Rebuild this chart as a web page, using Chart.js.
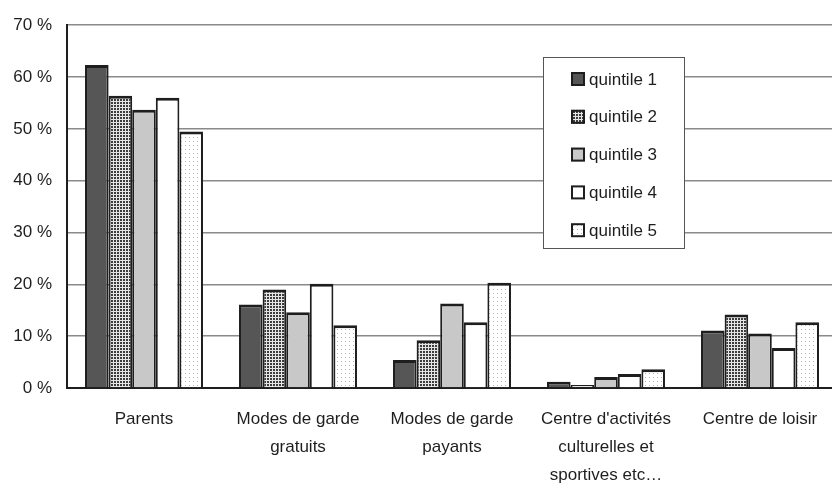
<!DOCTYPE html>
<html>
<head>
<meta charset="utf-8">
<script src="https://cdn.jsdelivr.net/npm/chart.js@4.4.1/dist/chart.umd.min.js"></script>
<style>
  html, body { margin: 0; padding: 0; background: #fff; overflow: hidden; }
  #wrap { width: 840px; height: 494px; }
</style>
</head>
<body>
<div id="wrap"><canvas id="myChart" width="840" height="494"></canvas></div>
<script>
'use strict';

// ====================== DATA ======================//
let categories = [
  ['Parents'],
  ['Modes de garde', 'gratuits'],
  ['Modes de garde', 'payants'],
  ["Centre d'activités", 'culturelles et', 'sportives etc…'],
  ['Centre de loisir']
];
let seriesNames = ['quintile 1', 'quintile 2', 'quintile 3', 'quintile 4', 'quintile 5'];
let quintile1 = [62.3, 16.1, 5.4, 1.2, 11.1];
let quintile2 = [56.4, 19.0, 9.2, 0.6, 14.2];
let quintile3 = [53.7, 14.6, 16.3, 2.1, 10.5];
let quintile4 = [56.0, 20.1, 12.7, 2.7, 7.7];
let quintile5 = [49.5, 12.1, 20.3, 3.6, 12.7];
let yTicks = [0, 10, 20, 30, 40, 50, 60, 70];

// ====================== FONT ======================//
let fontFamily = '"Liberation Sans", Arial, sans-serif';
let fontSize = 17;

// ====================== FILLS ======================//
function makePattern(size, draw) {
  let c = document.createElement('canvas');
  c.width = size;
  c.height = size;
  let g = c.getContext('2d');
  draw(g);
  return document.getElementById('myChart').getContext('2d').createPattern(c, 'repeat');
}

// small grid for quintile 2
let gridFill = makePattern(3, function (g) {
  g.fillStyle = '#e6e6e6';
  g.fillRect(0, 0, 3, 3);
  g.fillStyle = '#3c3c3c';
  g.fillRect(0, 0, 2, 2);
});
// sparse dots for quintile 5
let dotFill = makePattern(4, function (g) {
  g.fillStyle = '#ffffff';
  g.fillRect(0, 0, 4, 4);
  g.fillStyle = '#b4b4b4';
  g.fillRect(1, 1, 1, 1);
});

let fills = ['#565656', gridFill, '#c8c8c8', '#ffffff', dotFill];
let seriesValues = [quintile1, quintile2, quintile3, quintile4, quintile5];

// ====================== LEGEND PLUGIN ======================//
let boxLegend = {
  id: 'boxLegend',
  afterDraw(chart) {
    let ctx = chart.ctx;
    ctx.save();
    ctx.fillStyle = '#ffffff';
    ctx.fillRect(543, 57, 141, 191);
    ctx.strokeStyle = '#555555';
    ctx.lineWidth = 1;
    ctx.strokeRect(543.5, 57.5, 141, 191);
    ctx.font = fontSize + 'px ' + fontFamily;
    ctx.textBaseline = 'middle';
    for (let i = 0; i < seriesNames.length; i++) {
      let y = 79 + i * 37.8;
      ctx.fillStyle = fills[i];
      ctx.fillRect(571, y - 7, 14, 14);
      ctx.strokeStyle = '#1e1e1e';
      ctx.lineWidth = 2;
      ctx.strokeRect(572, y - 6, 12, 12);
      ctx.fillStyle = '#1e1e1e';
      ctx.fillText(seriesNames[i], 589, y + 1);
    }
    ctx.restore();
  }
};

// ====================== CHART ======================//
let datasets = [];
for (let i = 0; i < seriesNames.length; i++) {
  datasets.push({
    label: seriesNames[i],
    data: seriesValues[i],
    backgroundColor: fills[i],
    borderColor: '#1e1e1e',
    borderWidth: { top: 3, left: 2, right: 2, bottom: 0 },
    borderSkipped: 'bottom',
    categoryPercentage: 0.766,
    barPercentage: 1
  });
}

let chartObject = {
  type: 'bar',
  data: {
    labels: categories,
    datasets: datasets
  },
  options: {
    responsive: false,
    animation: false,
    layout: { padding: { top: 19, right: 3, left: 0, bottom: 0 } },
    plugins: {
      legend: { display: false },
      tooltip: { enabled: false }
    },
    scales: {
      x: {
        grid: { display: false, drawTicks: false },
        border: { color: '#1e1e1e', width: 2 },
        ticks: {
          color: '#1e1e1e',
          font: { family: fontFamily, size: fontSize, lineHeight: 1.65 },
          padding: 17,
          maxRotation: 0,
          autoSkip: false
        },
        afterFit(scale) { scale.height = 106; }
      },
      y: {
        min: 0,
        max: 70,
        afterBuildTicks(scale) {
          scale.ticks = yTicks.map(function (v) { return { value: v }; });
        },
        grid: { color: '#8a8a8a', lineWidth: 1.5, drawTicks: false },
        border: { color: '#1e1e1e', width: 2 },
        ticks: {
          color: '#1e1e1e',
          font: { family: fontFamily, size: fontSize },
          padding: 15,
          callback: function (v) { return v + ' %'; }
        },
        afterFit(scale) { scale.width = 67; }
      }
    }
  },
  plugins: [boxLegend]
};

let ctx = document.getElementById('myChart').getContext('2d');
let myChart = new Chart(ctx, chartObject);
</script>
</body>
</html>
